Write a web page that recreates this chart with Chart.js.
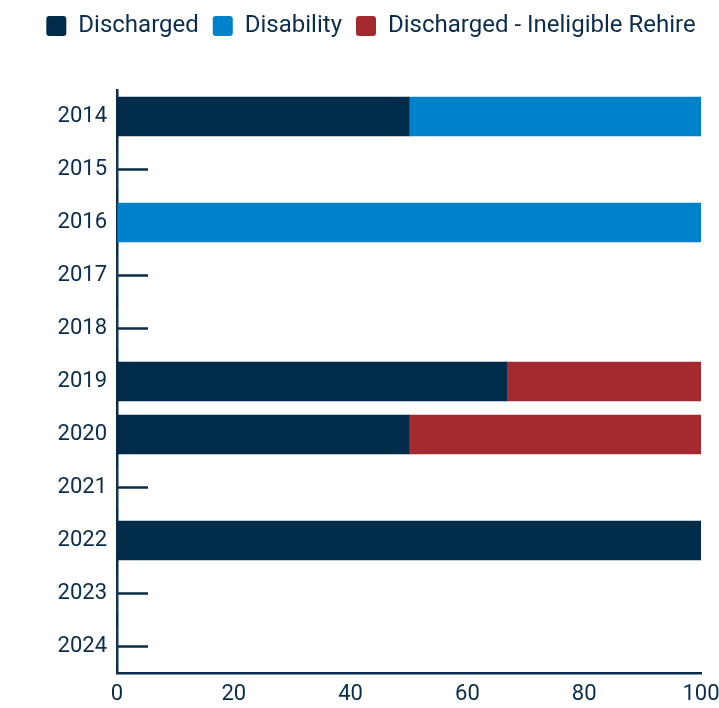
<!DOCTYPE html>
<html lang="en">
<head>
  <meta charset="UTF-8">
  <title>Separations by year</title>
  <script src="https://cdn.jsdelivr.net/npm/chart.js"></script>
  <style>
    html, body { margin: 0; padding: 0; background: #fff; }
    #wrap { width: 719px; height: 708px; }
  </style>
</head>
<body>
<div id="wrap"><canvas id="sepChart"></canvas></div>

<script>
const years = ["2014", "2015", "2016", "2017", "2018", "2019", "2020", "2021", "2022", "2023", "2024"];
const discharged = [50, 0, 0, 0, 0, 66.7, 50, 0, 100, 0, 0];
const disability = [50, 0, 100, 0, 0, 0, 0, 0, 0, 0, 0];
const ineligibleRehire = [0, 0, 0, 0, 0, 33.3, 50, 0, 0, 0, 0];
const xTicks = [0, 20, 40, 60, 80, 100];

const navy = "#0b2c4a";
const padLeft = 23;

// short dashes to the right of the y axis, under the bars
const tickDashes = {
  id: "tickDashes",
  beforeDatasetsDraw(chart) {
    const ctx = chart.ctx;
    const y = chart.scales.y;
    const left = chart.chartArea.left;
    ctx.save();
    ctx.strokeStyle = navy;
    ctx.lineWidth = 2.5;
    years.forEach((yr, i) => {
      const py = y.getPixelForValue(i);
      ctx.beginPath();
      ctx.moveTo(left, py);
      ctx.lineTo(left + 31, py);
      ctx.stroke();
    });
    ctx.restore();
  }
};

// extra room between legend and plot
const legendGap = {
  id: "legendGap",
  beforeInit(chart) {
    const fitValue = chart.legend.fit;
    chart.legend.fit = function fit() {
      fitValue.bind(chart.legend)();
      this.height += 42;
    };
  }
};

const ctx = document.getElementById("sepChart").getContext("2d");
new Chart(ctx, {
  type: "bar",
  data: {
    labels: years,
    datasets: [
      { label: "Discharged", data: discharged, backgroundColor: "#002b49", barThickness: 39 },
      { label: "Disability", data: disability, backgroundColor: "#0082ca", barThickness: 39 },
      { label: "Discharged - Ineligible Rehire", data: ineligibleRehire, backgroundColor: "#a52a2f", barThickness: 39 }
    ]
  },
  options: {
    indexAxis: "y",
    responsive: true,
    maintainAspectRatio: false,
    animation: false,
    layout: { padding: { left: padLeft, right: 0, top: 0, bottom: 0 } },
    plugins: {
      legend: {
        position: "top",
        labels: {
          color: navy,
          font: { family: "Roboto", size: 24 },
          boxWidth: 20,
          boxHeight: 20,
          padding: 14,
          useBorderRadius: true,
          borderRadius: 3
        }
      },
      tooltip: { enabled: false }
    },
    scales: {
      x: {
        stacked: true,
        min: 0,
        max: 100,
        afterBuildTicks: axis => { axis.ticks = xTicks.map(v => ({ value: v })); },
        afterFit: axis => { axis.height = 35; axis.paddingRight = 18; },
        grid: { display: false, drawTicks: false },
        border: { display: true, color: navy, width: 2.5 },
        ticks: { color: navy, font: { family: "Roboto", size: 22 }, padding: 8 }
      },
      y: {
        stacked: true,
        afterFit: axis => { axis.width = 117 - padLeft; },
        grid: { display: false, drawTicks: false },
        border: { display: true, color: navy, width: 2.5 },
        ticks: { color: navy, font: { family: "Roboto", size: 22 }, padding: 10 }
      }
    }
  },
  plugins: [tickDashes, legendGap]
});
</script>
</body>
</html>
